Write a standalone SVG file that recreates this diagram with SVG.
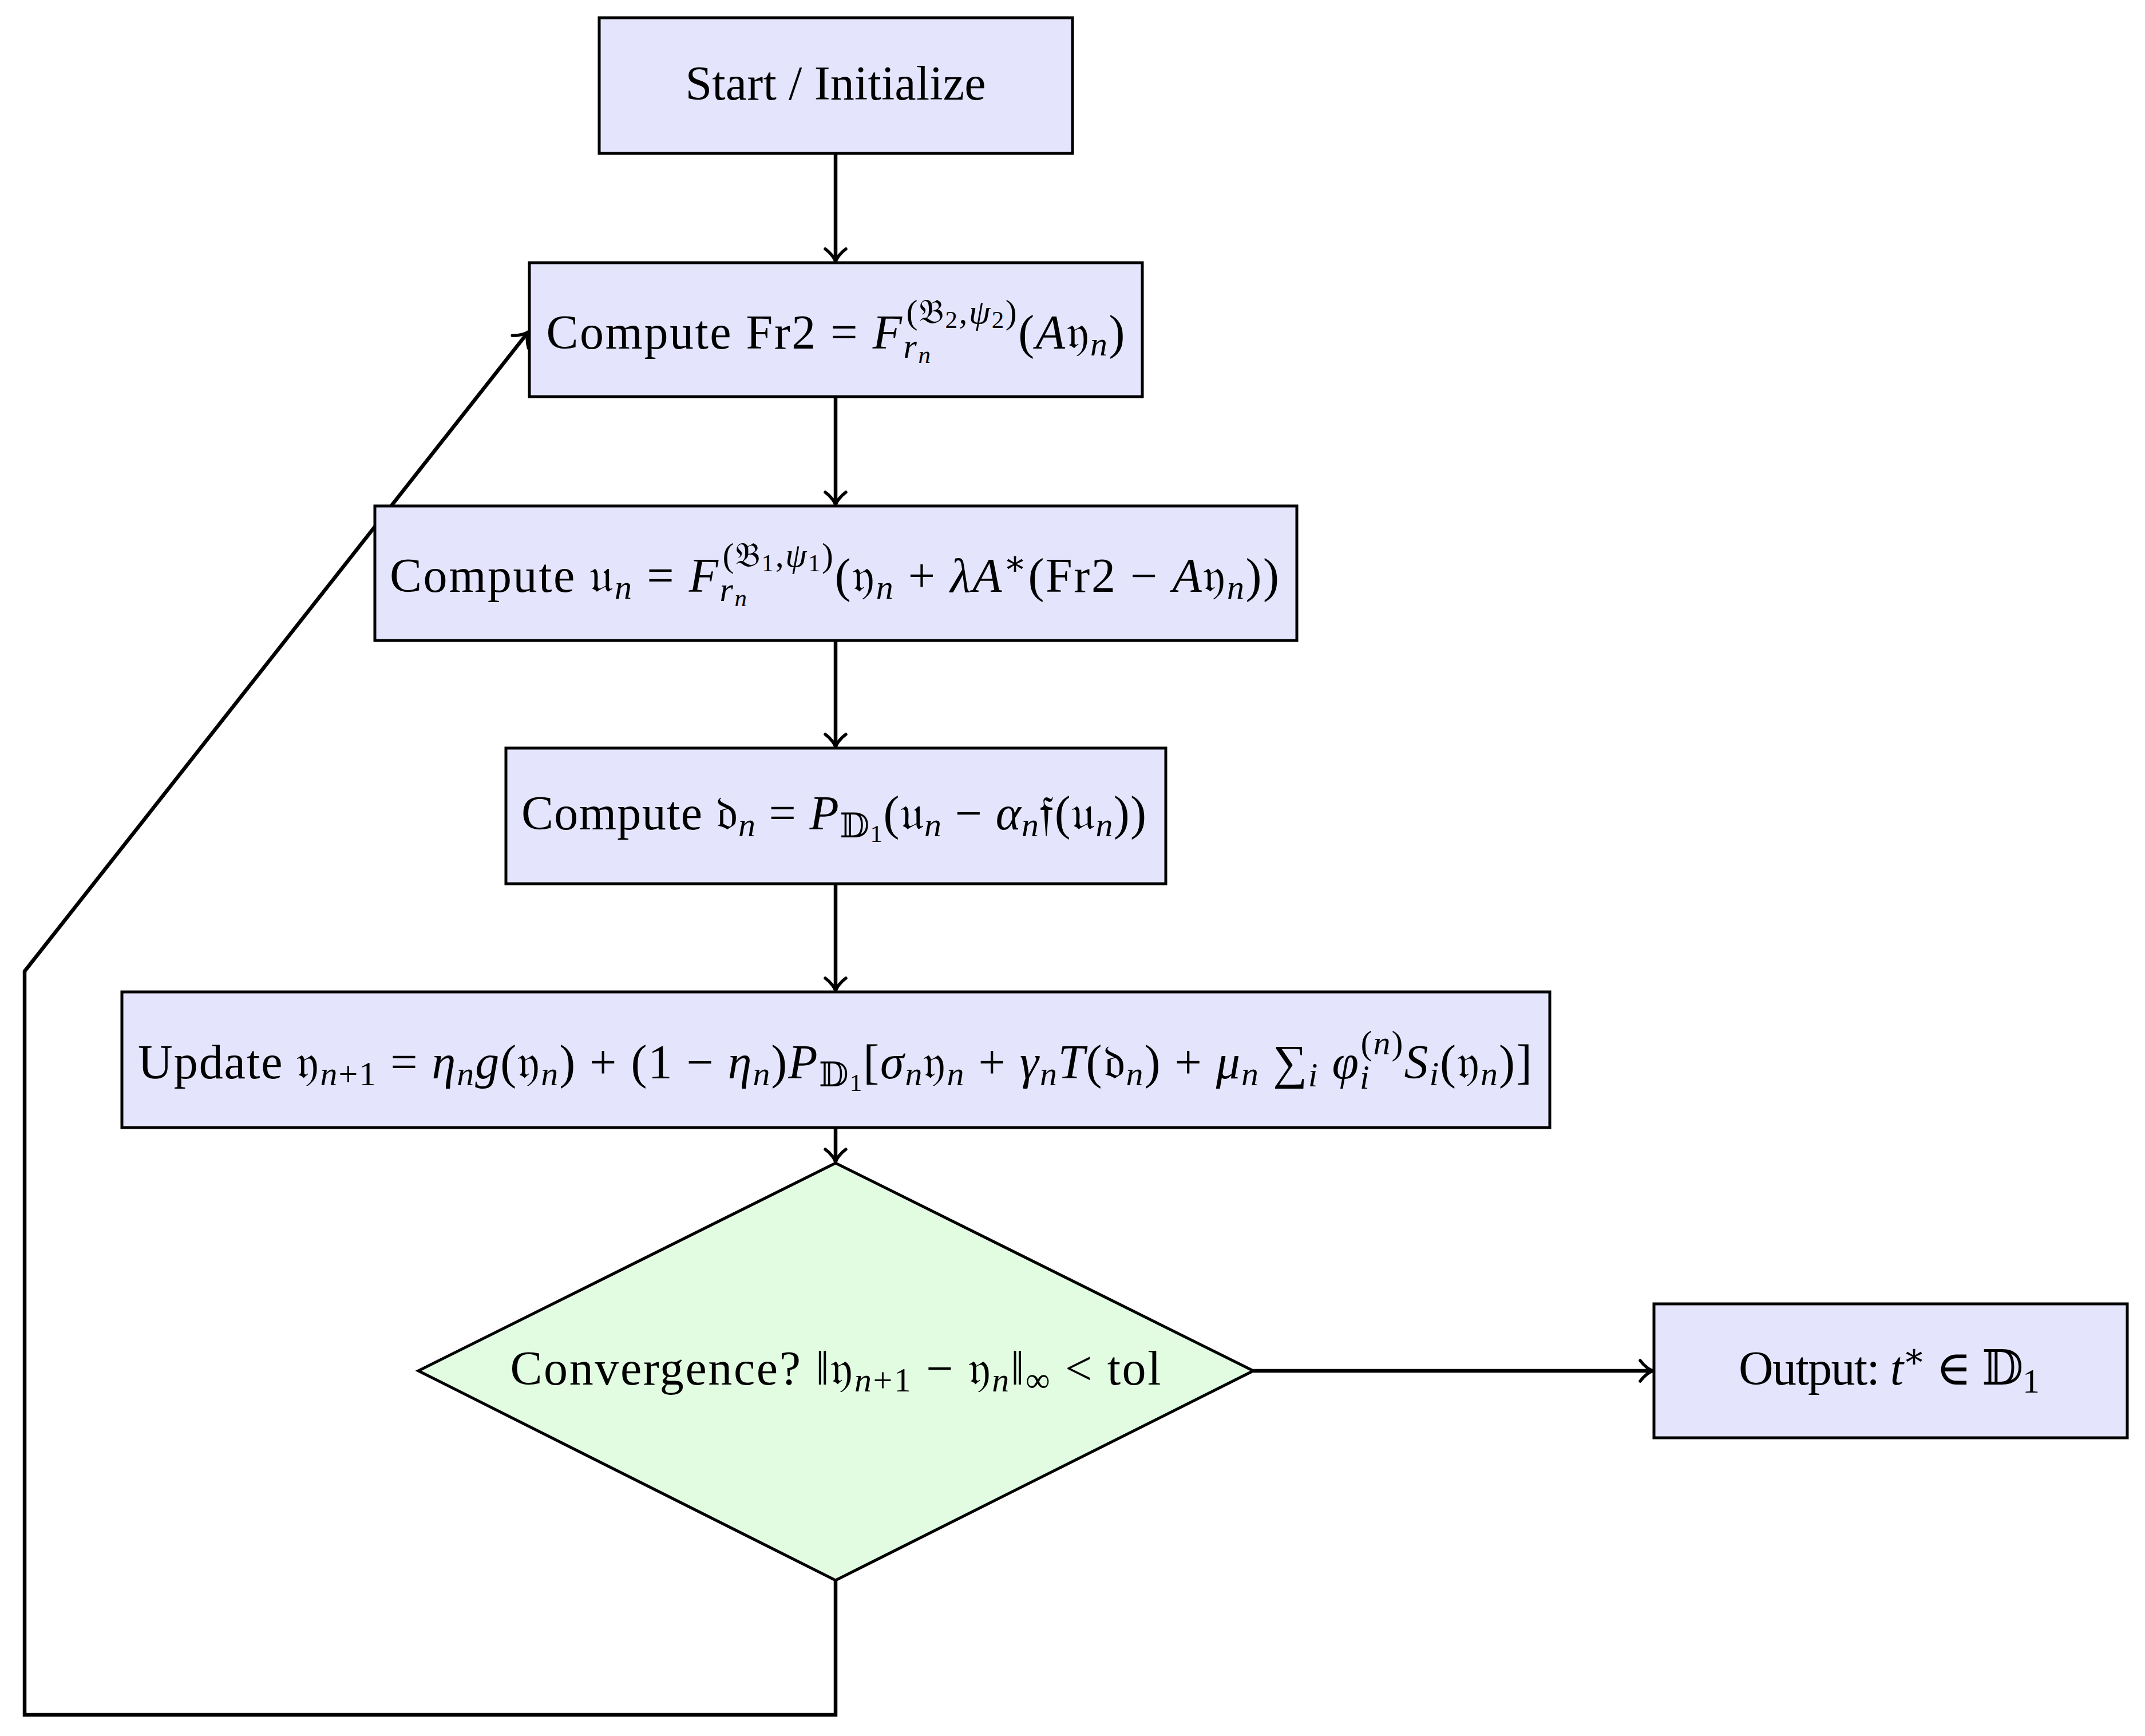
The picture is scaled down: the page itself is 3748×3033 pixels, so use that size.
<svg xmlns="http://www.w3.org/2000/svg" width="3748" height="3033" viewBox="0 0 3748 3033">
<style>
.box{fill:#E4E4FC;stroke:#000;stroke-width:5}
.dia{fill:#E2FCE2;stroke:#000;stroke-width:5}
.t{font-family:"Liberation Serif","DejaVu Serif","DejaVu Sans",serif;font-size:84px;fill:#000}
.i{font-style:italic}
.s{font-size:60px}
.ss{font-size:43px}
.c{fill:none;stroke:#000;stroke-width:6.5;stroke-linejoin:miter}
</style>
<defs>
<marker id="ah" markerUnits="userSpaceOnUse" markerWidth="50" markerHeight="50" viewBox="-30 -25 35 50" refX="0" refY="0" orient="auto" overflow="visible">
<path d="M -22,-18 C -15,-8 -5,-1.5 0,0 C -5,1.5 -15,8 -22,18" fill="none" stroke="#000" stroke-width="5.5" stroke-linecap="round"/>
</marker>
</defs>
<rect width="3748" height="3033" fill="#fff"/>
<g id="connectors">
<path class="c" d="M1460,268 L1460,457" marker-end="url(#ah)"/>
<path class="c" d="M1460,693 L1460,882" marker-end="url(#ah)"/>
<path class="c" d="M1460,1119 L1460,1305" marker-end="url(#ah)"/>
<path class="c" d="M1460,1544 L1460,1731" marker-end="url(#ah)"/>
<path class="c" d="M1460,1970 L1460,2030" marker-end="url(#ah)"/>
<path class="c" d="M2190,2395 L2888,2395" marker-end="url(#ah)"/>
<path class="c" d="M1460,2761 L1460,2996 L43,2996 L43,1697 L923,580" marker-end="url(#ah)"/>
</g>
<g id="start">
<rect class="box" x="1047" y="31" width="827" height="237"/>
<text class="t" x="1460" y="174" text-anchor="middle" textLength="525" lengthAdjust="spacing">Start / Initialize</text>
</g>
<g id="fr2">
<rect class="box" x="925" y="459" width="1071" height="234"/>
<text class="t" x="1460" y="609" text-anchor="middle" textLength="1011" lengthAdjust="spacing">Compute Fr2 = <tspan class="i">F</tspan><tspan class="s i" dy="16">r</tspan><tspan class="ss i" dy="9">n</tspan><tspan class="s" dx="-45" dy="-69">(𝔅</tspan><tspan class="ss" dy="8">2</tspan><tspan class="s" dy="-8">,</tspan><tspan class="s i">ψ</tspan><tspan class="ss" dy="8">2</tspan><tspan class="s" dy="-8">)</tspan><tspan dy="44">(</tspan><tspan class="i">A</tspan>𝔶<tspan class="s i" dy="12">n</tspan><tspan dy="-12">)</tspan></text>
</g>
<g id="un">
<rect class="box" x="655" y="884" width="1611" height="235"/>
<text class="t" x="1458" y="1034" text-anchor="middle" textLength="1554" lengthAdjust="spacing">Compute 𝔲<tspan class="s i" dy="12">n</tspan><tspan dy="-12"> = </tspan><tspan class="i">F</tspan><tspan class="s i" dy="16">r</tspan><tspan class="ss i" dy="9">n</tspan><tspan class="s" dx="-45" dy="-69">(𝔅</tspan><tspan class="ss" dy="8">1</tspan><tspan class="s" dy="-8">,</tspan><tspan class="s i">ψ</tspan><tspan class="ss" dy="8">1</tspan><tspan class="s" dy="-8">)</tspan><tspan dy="44">(𝔶</tspan><tspan class="s i" dy="12">n</tspan><tspan dy="-12"> + </tspan><tspan class="i">λA</tspan><tspan class="s" dy="-30">∗</tspan><tspan dy="30">(Fr2 − </tspan><tspan class="i">A</tspan>𝔶<tspan class="s i" dy="12">n</tspan><tspan dy="-12">))</tspan></text>
</g>
<g id="dn">
<rect class="box" x="884" y="1307" width="1153" height="237"/>
<text class="t" x="1457" y="1449" text-anchor="middle" textLength="1092" lengthAdjust="spacing">Compute 𝔡<tspan class="s i" dy="12">n</tspan><tspan dy="-12"> = </tspan><tspan class="i">P</tspan><tspan class="s" dy="14">𝔻</tspan><tspan class="ss" dy="8">1</tspan><tspan dy="-22">(𝔲</tspan><tspan class="s i" dy="12">n</tspan><tspan dy="-12"> − </tspan><tspan class="i">α</tspan><tspan class="s i" dy="12">n</tspan><tspan dy="-12">𝔣(𝔲</tspan><tspan class="s i" dy="12">n</tspan><tspan dy="-12">))</tspan></text>
</g>
<g id="update">
<rect class="box" x="213" y="1733" width="2495" height="237"/>
<text class="t" x="1459" y="1884" text-anchor="middle" textLength="2436" lengthAdjust="spacing">Update 𝔶<tspan class="s" dy="12"><tspan class="i">n</tspan>+1</tspan><tspan dy="-12"> = </tspan><tspan class="i">η</tspan><tspan class="s i" dy="12">n</tspan><tspan class="i" dy="-12">g</tspan>(𝔶<tspan class="s i" dy="12">n</tspan><tspan dy="-12">) + (1 − </tspan><tspan class="i">η</tspan><tspan class="s i" dy="12">n</tspan><tspan dy="-12">)</tspan><tspan class="i">P</tspan><tspan class="s" dy="14">𝔻</tspan><tspan class="ss" dy="8">1</tspan><tspan dy="-22">[</tspan><tspan class="i">σ</tspan><tspan class="s i" dy="12">n</tspan><tspan dy="-12">𝔶</tspan><tspan class="s i" dy="12">n</tspan><tspan dy="-12"> + </tspan><tspan class="i">γ</tspan><tspan class="s i" dy="12">n</tspan><tspan class="i" dy="-12">T</tspan>(𝔡<tspan class="s i" dy="12">n</tspan><tspan dy="-12">) + </tspan><tspan class="i">μ</tspan><tspan class="s i" dy="12">n</tspan><tspan dy="-12"> ∑</tspan><tspan class="s i" dy="14">i</tspan><tspan dy="-14"> </tspan><tspan class="i">φ</tspan><tspan class="s i" dy="18">i</tspan><tspan class="s" dx="-17" dy="-60">(<tspan class="i">n</tspan>)</tspan><tspan class="i" dy="42">S</tspan><tspan class="s i" dy="12">i</tspan><tspan dy="-12">(𝔶</tspan><tspan class="s i" dy="12">n</tspan><tspan dy="-12">)]</tspan></text>
</g>
<g id="convergence">
<polygon class="dia" points="1460,2032 2190,2395 1460,2761 731,2395"/>
<text class="t" x="1460" y="2419" text-anchor="middle" textLength="1137" lengthAdjust="spacing">Convergence? ‖𝔶<tspan class="s" dy="12"><tspan class="i">n</tspan>+1</tspan><tspan dy="-12"> − 𝔶</tspan><tspan class="s i" dy="12">n</tspan><tspan dy="-12">‖</tspan><tspan class="s" dy="12">∞</tspan><tspan dy="-12"> &lt; tol</tspan></text>
</g>
<g id="output">
<rect class="box" x="2890" y="2278" width="827" height="234"/>
<text class="t" x="3301" y="2419" text-anchor="middle" textLength="526" lengthAdjust="spacing">Output: <tspan class="i">t</tspan><tspan class="s" dy="-30">∗</tspan><tspan dy="30"> ∈ 𝔻</tspan><tspan class="s" dy="14">1</tspan></text>
</g>
</svg>
